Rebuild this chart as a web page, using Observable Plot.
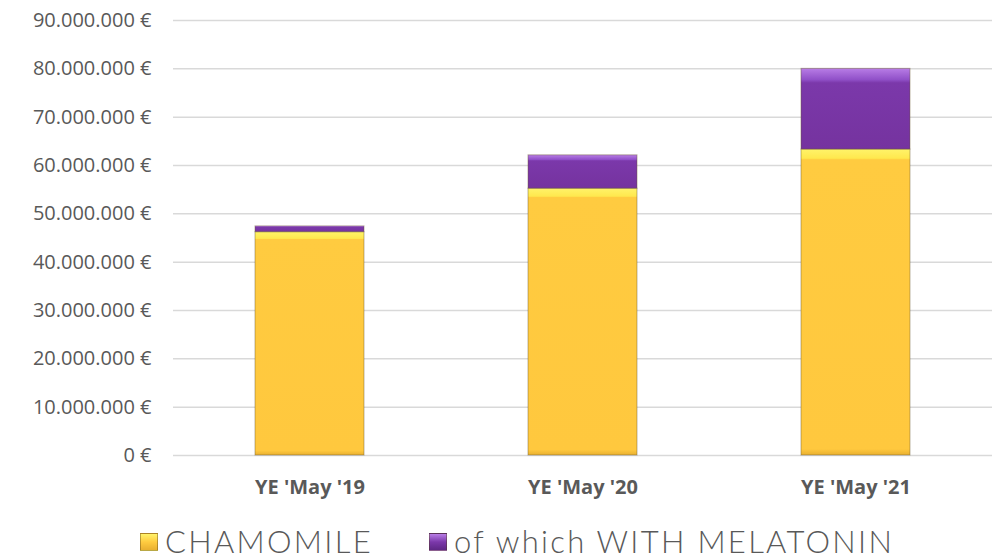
<!DOCTYPE html>
<html>
<head>
<meta charset="utf-8">
<script src="https://cdn.jsdelivr.net/npm/d3@7"></script>
<script src="https://cdn.jsdelivr.net/npm/@observablehq/plot@0.6"></script>
<style>
  html, body { margin: 0; padding: 0; background: #fff; }
  #wrap { position: relative; width: 997px; height: 560px; }
  #legend { position: absolute; left: 140px; top: 528px; display: flex; align-items: center; line-height: 0.9;
    font-family: Lato, "Noto Sans", sans-serif; font-weight: 300; font-size: 31px; color: #595959; letter-spacing: 2.3px; }
  .sw { width: 18px; height: 18px; display: inline-block; margin-right: 7px; box-sizing: border-box; }
  .item { display: flex; align-items: center; }
</style>
</head>
<body>
<div id="wrap">
  <div id="chart"></div>
  <div id="legend"></div>
</div>
<script>
const categories = ["YE 'May '19", "YE 'May '20", "YE 'May '21"];
const seriesNames = ["CHAMOMILE", "of which WITH MELATONIN"];
const chamomile = [46200000, 55200000, 63300000];
const melatonin = [1200000, 6900000, 16700000];
const yTicks = [0, 10000000, 20000000, 30000000, 40000000, 50000000, 60000000, 70000000, 80000000, 90000000];
const fills = ["url(#gy)", "url(#gp)"];

const rows = [];
categories.forEach((c, i) => {
  rows.push({cat: c, series: seriesNames[0], value: chamomile[i]});
  rows.push({cat: c, series: seriesNames[1], value: melatonin[i]});
});

const fmt = d => d3.format(",")(d).replace(/,/g, ".") + " €";

const plot = Plot.plot({
  width: 997,
  height: 520,
  marginLeft: 173,
  marginRight: 5,
  marginTop: 20,
  marginBottom: 65,
  style: {fontFamily: "'Open Sans', sans-serif", color: "#595959", background: "#fff"},
  x: {domain: categories, paddingInner: 0.6, paddingOuter: 0.3, label: null},
  y: {domain: [0, 90000000], label: null},
  color: {domain: seriesNames, range: fills},
  marks: [
    Plot.gridY(yTicks, {stroke: "#d9d9d9", strokeOpacity: 1, strokeWidth: 1.5}),
    Plot.axisY(yTicks, {tickSize: 0, tickPadding: 22, tickFormat: fmt, fontSize: 20, fill: "#595959", label: null}),
    Plot.axisX({tickSize: 0, tickPadding: 24, fontSize: 20, fontWeight: "bold", fill: "#595959", label: null}),
    Plot.barY(rows, Plot.stackY({x: "cat", y: "value", fill: "series", order: seriesNames,
      stroke: "#6b5a30", strokeOpacity: 0.45, strokeWidth: 1}))
  ]
});

const ns = "http://www.w3.org/2000/svg";
const defs = document.createElementNS(ns, "defs");
defs.innerHTML = `
<linearGradient id="gy" x1="0" y1="0" x2="0" y2="1">
  <stop offset="0" stop-color="#fff36a"/>
  <stop offset="0.03" stop-color="#ffe84e"/>
  <stop offset="0.035" stop-color="#ffcb40"/>
  <stop offset="0.98" stop-color="#ffc83e"/>
  <stop offset="1" stop-color="#e9b030"/>
</linearGradient>
<linearGradient id="gp" x1="0" y1="0" x2="0" y2="1">
  <stop offset="0" stop-color="#b87de6"/>
  <stop offset="0.14" stop-color="#9050c8"/>
  <stop offset="0.18" stop-color="#7b38aa"/>
  <stop offset="1" stop-color="#75339f"/>
</linearGradient>`;
plot.insertBefore(defs, plot.firstChild);
document.getElementById("chart").appendChild(plot);

const legend = document.getElementById("legend");
const swatchFills = ["linear-gradient(#fff36a, #ffcb40 50%, #e9b030)", "linear-gradient(#b87de6, #7b38aa 50%, #5e2785)"];
seriesNames.forEach((s, i) => {
  const item = document.createElement("div");
  item.className = "item";
  if (i > 0) item.style.marginLeft = "56px";
  const sw = document.createElement("span");
  sw.className = "sw";
  sw.style.background = swatchFills[i];
  sw.style.border = "1px solid rgba(80,60,20,0.4)";
  const t = document.createElement("span");
  t.textContent = s;
  item.appendChild(sw);
  item.appendChild(t);
  legend.appendChild(item);
});
</script>
</body>
</html>
